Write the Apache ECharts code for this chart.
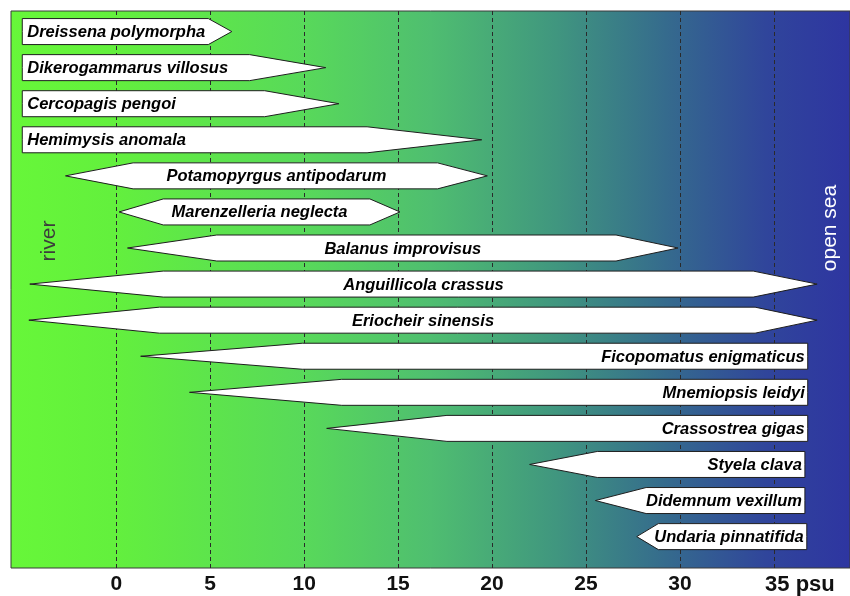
<!DOCTYPE html>
<html>
<head>
<meta charset="utf-8">
<script src="https://cdn.jsdelivr.net/npm/echarts@6/dist/echarts.min.js"></script>
<style>html,body{margin:0;padding:0;background:#fff;}#c{width:850px;height:596px;}</style>
</head>
<body>
<div id="c"></div>
<script>
const species = ['Dreissena polymorpha','Dikerogammarus villosus','Cercopagis pengoi','Hemimysis anomala','Potamopyrgus antipodarum','Marenzelleria neglecta','Balanus improvisus','Anguillicola crassus','Eriocheir sinensis','Ficopomatus enigmaticus','Mnemiopsis leidyi','Crassostrea gigas','Styela clava','Didemnum vexillum','Undaria pinnatifida'];
const minSal   = [-5, -5, -5, -5, -2.7, 0.15, 0.6, -4.6, -4.65, 1.3, 3.9, 11.2, 22.0, 25.5, 27.7];
const bodyFrom = [-5, -5, -5, -5, 0.9, 2.5, 5.35, 2.5, 2.3, 9.9, 12.0, 17.6, 25.6, 28.2, 28.85];
const bodyTo   = [4.9, 7.1, 7.9, 13.35, 17.1, 13.5, 26.6, 33.9, 34.0, 36.8, 36.8, 36.8, 36.65, 36.65, 36.75];
const maxSal   = [6.15, 11.15, 11.85, 19.45, 19.75, 15.1, 29.9, 37.3, 37.3, 36.8, 36.8, 36.8, 36.65, 36.65, 36.75];
const tickValues = [0, 5, 10, 15, 20, 25, 30, 35];
const tickLabels = ['0', '5', '10', '15', '20', '25', '30', '35 psu'];

const rows = species.map((s, i) => [i, minSal[i], bodyFrom[i], bodyTo[i], maxSal[i], s]);
const FONT = '"Liberation Sans", Arial, sans-serif';

const chart = echarts.init(document.getElementById('c'));
chart.setOption({
  animation: false,
  grid: {
    left: 11, right: -1, top: 11, bottom: 28,
    show: true,
    borderColor: '#3a3a3a', borderWidth: 1,
    backgroundColor: {
      type: 'linear', x: 0, y: 0, x2: 1, y2: 0,
      colorStops: [
        {offset: 0, color: '#67f739'},
        {offset: 0.12, color: '#63f03d'},
        {offset: 0.35, color: '#58d95a'},
        {offset: 0.5, color: '#4fbe70'},
        {offset: 0.65, color: '#40967f'},
        {offset: 0.78, color: '#356b8d'},
        {offset: 0.9, color: '#30459b'},
        {offset: 1, color: '#2e35a1'}
      ]
    }
  },
  xAxis: {
    type: 'value', min: -5.6, max: 39.05,
    axisLine: {show: false}, axisTick: {show: false}, splitLine: {show: false},
    axisLabel: {
      customValues: tickValues,
      margin: 6,
      fontSize: 21, fontWeight: 'bold', color: '#111', fontFamily: FONT,
      formatter: function (v) {
        const k = tickValues.indexOf(v);
        const t = k >= 0 ? tickLabels[k] : '';
        return k === tickValues.length - 1 ? '{p|' + t + '}' : t;
      },
      rich: {p: {fontSize: 22, fontWeight: 'bold', color: '#111', fontFamily: FONT, padding: [0, 0, 0, 52]}}
    }
  },
  yAxis: {type: 'value', inverse: true, min: -0.57, max: 14.87, show: false},
  graphic: [
    {type: 'text', x: 49, y: 241, rotation: Math.PI / 2,
     style: {text: 'river', font: '21px ' + FONT, fill: '#3c3c3c', align: 'center', verticalAlign: 'middle'}},
    {type: 'text', x: 830, y: 228, rotation: Math.PI / 2,
     style: {text: 'open sea', font: '21px ' + FONT, fill: '#ffffff', align: 'center', verticalAlign: 'middle'}}
  ],
  series: [
    {
      type: 'custom', z: 1, silent: true,
      data: tickValues.map(v => [v]),
      encode: {x: 0},
      renderItem: function (params, api) {
        const cs = params.coordSys;
        const x = Math.round(api.coord([api.value(0), 0])[0]) + 0.5;
        return {type: 'line', shape: {x1: x, y1: cs.y, x2: x, y2: cs.y + cs.height},
                style: {stroke: '#2a2a2a', lineWidth: 1, lineDash: [4, 3]}};
      }
    },
    {
      type: 'custom', z: 2, silent: true,
      data: rows,
      encode: {x: [1, 2, 3, 4], y: 0},
      renderItem: function (params, api) {
        const i = api.value(0);
        const a = api.coord([api.value(1), i]);
        const b = api.coord([api.value(2), i]);
        const c = api.coord([api.value(3), i]);
        const d = api.coord([api.value(4), i]);
        const y = a[1], h = 13;
        const pts = [[a[0], y], [b[0], y - h], [c[0], y - h], [d[0], y], [c[0], y + h], [b[0], y + h]];
        const flatLeft = api.value(1) === api.value(2);
        const flatRight = api.value(3) === api.value(4);
        let tx, align;
        if (flatLeft) { tx = a[0] + 5; align = 'left'; }
        else if (flatRight) { tx = d[0] - 3; align = 'right'; }
        else { tx = (a[0] + d[0]) / 2; align = 'center'; }
        return {
          type: 'group',
          children: [
            {type: 'polygon', shape: {points: pts},
             style: {fill: '#ffffff', stroke: '#1e1e1e', lineWidth: 1}},
            {type: 'text',
             style: {x: tx, y: y + 1, text: api.value(5), align: align, verticalAlign: 'middle',
                     font: 'italic bold 16.5px ' + FONT, fill: '#000'}}
          ]
        };
      }
    }
  ]
});
</script>
</body>
</html>
